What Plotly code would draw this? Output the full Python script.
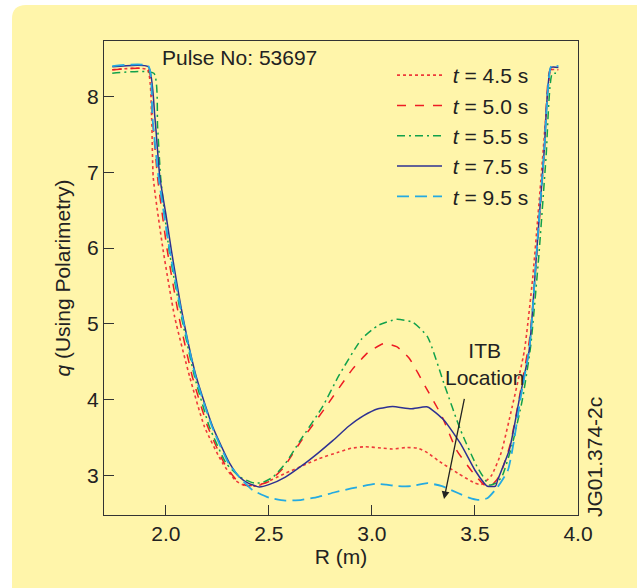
import plotly.graph_objects as go

# ---------------- data ----------------
labels = ["<i>t</i> = 4.5 s", "<i>t</i> = 5.0 s", "<i>t</i> = 5.5 s", "<i>t</i> = 7.5 s", "<i>t</i> = 9.5 s"]

r_45 = [1.74, 1.91, 1.931, 1.939, 1.987, 2.043, 2.116, 2.188, 2.276, 2.34, 2.39, 2.45, 2.58, 2.68, 2.74,
        2.84, 2.90, 2.967, 3.056, 3.10, 3.17, 3.225, 3.27, 3.32, 3.417, 3.50, 3.53, 3.58, 3.627, 3.68,
        3.74, 3.78, 3.82, 3.855, 3.868, 3.905]
q_45 = [8.35, 8.35, 7.72, 6.93, 5.97, 5.09, 4.30, 3.64, 3.16, 2.93, 2.86, 2.87, 3.03, 3.15, 3.22,
        3.31, 3.36, 3.38, 3.36, 3.35, 3.37, 3.36, 3.30, 3.20, 3.03, 2.90, 2.88, 3.00, 3.30, 3.90,
        4.65, 5.60, 6.90, 8.10, 8.35, 8.35]

r_50 = [1.74, 1.915, 1.935, 1.96, 2.007, 2.064, 2.129, 2.204, 2.284, 2.34, 2.39, 2.45, 2.50, 2.57, 2.65,
        2.77, 2.905, 2.98, 3.056, 3.12, 3.18, 3.26, 3.34, 3.41, 3.49, 3.546, 3.58, 3.62, 3.67, 3.72,
        3.765, 3.80, 3.835, 3.865, 3.905]
q_50 = [8.35, 8.35, 7.72, 6.93, 5.97, 5.09, 4.30, 3.64, 3.16, 2.95, 2.87, 2.88, 2.92, 3.10, 3.43,
        3.88, 4.40, 4.62, 4.74, 4.70, 4.55, 4.17, 3.78, 3.34, 3.04, 2.875, 2.87, 3.00, 3.40, 4.10,
        4.80, 5.90, 7.20, 8.35, 8.35]

r_55 = [1.74, 1.942, 1.96, 1.975, 2.016, 2.076, 2.14, 2.212, 2.293, 2.36, 2.43, 2.47, 2.52, 2.58, 2.654,
        2.76, 2.84, 2.95, 3.03, 3.12, 3.20, 3.27, 3.35, 3.43, 3.51, 3.57, 3.60, 3.63, 3.68, 3.73,
        3.77, 3.81, 3.845, 3.875, 3.905]
q_55 = [8.305, 8.305, 7.60, 6.93, 5.97, 5.09, 4.30, 3.64, 3.16, 2.98, 2.90, 2.91, 2.98, 3.16, 3.47,
        3.905, 4.32, 4.80, 4.98, 5.06, 5.02, 4.83, 4.21, 3.60, 3.12, 2.875, 2.90, 2.98, 3.40, 4.00,
        4.70, 5.90, 7.20, 8.30, 8.30]

r_75 = [1.74, 1.915, 1.947, 1.971, 2.00, 2.027, 2.083, 2.148, 2.228, 2.31, 2.357, 2.40, 2.453, 2.50, 2.58,
        2.66, 2.74, 2.81, 2.887, 2.96, 3.03, 3.10, 3.19, 3.27, 3.35, 3.43, 3.50, 3.545, 3.56, 3.60,
        3.61, 3.667, 3.715, 3.763, 3.80, 3.836, 3.868, 3.905]
q_75 = [8.39, 8.39, 7.72, 6.93, 6.45, 5.97, 5.09, 4.30, 3.64, 3.16, 2.98, 2.90, 2.85, 2.88, 2.98,
        3.13, 3.30, 3.46, 3.65, 3.79, 3.88, 3.91, 3.88, 3.905, 3.73, 3.42, 3.07, 2.90, 2.86, 2.86,
        2.94, 3.34, 4.00, 4.65, 5.97, 7.28, 8.38, 8.38]

r_95 = [1.74, 1.915, 1.935, 1.965, 2.019, 2.08, 2.145, 2.225, 2.305, 2.36, 2.42, 2.50, 2.58, 2.66, 2.74,
        2.82, 2.90, 3.016, 3.07, 3.128, 3.19, 3.27, 3.34, 3.417, 3.47, 3.514, 3.56, 3.61, 3.66, 3.69,
        3.72, 3.765, 3.80, 3.836, 3.87, 3.905]
q_95 = [8.40, 8.40, 7.72, 6.93, 5.97, 5.09, 4.30, 3.64, 3.16, 2.97, 2.81, 2.71, 2.67, 2.68, 2.72,
        2.78, 2.83, 2.89, 2.88, 2.86, 2.86, 2.90, 2.86, 2.77, 2.71, 2.68, 2.70, 2.85, 3.07, 3.47,
        4.00, 4.70, 5.97, 7.28, 8.40, 8.40]

x_ticks = [2.0, 2.5, 3.0, 3.5, 4.0]
y_ticks = [3, 4, 5, 6, 7, 8]

# ---------------- styling ----------------
FONT = "Liberation Sans, Arial, Helvetica, sans-serif"
FS = 21
YELLOW = "#FFF5AA"
AX = "#333333"
TXT = "#222222"
series = [
    (r_45, q_45, "#EE3A3A", "dot", 1.6),
    (r_50, q_50, "#ED1C24", "dash", 1.5),
    (r_55, q_55, "#12A14B", "8px,4px,2px,4px", 1.5),
    (r_75, q_75, "#2E3192", "solid", 1.5),
    (r_95, q_95, "#25AAE1", "12px,6px", 1.8),
]

fig = go.Figure()
for i, (xs, ys, col, dash, w) in enumerate(series):
    fig.add_trace(go.Scatter(
        x=xs, y=ys, mode="lines", name="\u00a0" + labels[i],
        line=dict(color=col, dash=dash, width=w, shape="spline", smoothing=0.5),
    ))

# plot area in pixels
L, R, T, B = 104, 578, 41, 515
W, H = 637, 588
def px(xp):
    return (xp - L) / (R - L)
def py(yp):
    return (B - yp) / (B - T)

# rounded yellow panel behind everything
x0, x1, y0, y1, rr = 12, 660, 5, 610, 14
path = (f"M {px(x0+rr)},{py(y0)} L {px(x1)},{py(y0)} L {px(x1)},{py(y1)} L {px(x0)},{py(y1)} "
        f"L {px(x0)},{py(y0+rr)} Q {px(x0)},{py(y0)} {px(x0+rr)},{py(y0)} Z")
fig.add_shape(type="path", path=path, xref="paper", yref="paper",
              fillcolor=YELLOW, line=dict(width=0), layer="below")

axis_common = dict(showline=True, mirror=True, linecolor=AX, linewidth=1.3,
                   ticks="inside", ticklen=10, tickwidth=1.3, tickcolor=AX,
                   showgrid=False, zeroline=False,
                   tickfont=dict(family=FONT, size=FS, color=TXT))

fig.update_layout(
    width=W, height=H, autosize=False,
    margin=dict(l=L, r=W - R, t=T, b=H - B),
    paper_bgcolor="white", plot_bgcolor="rgba(0,0,0,0)",
    font=dict(family=FONT, size=FS, color=TXT),
    xaxis=dict(range=[1.70, 4.0], tickvals=x_ticks, ticktext=[f"{v:.1f}" for v in x_ticks],
               title=dict(text="R (m)", font=dict(family=FONT, size=FS, color=TXT), standoff=4),
               **axis_common),
    yaxis=dict(range=[2.48, 8.73], tickvals=y_ticks, ticktext=[str(v) for v in y_ticks],
               title=dict(text="<i>q</i> (Using Polarimetry)", font=dict(family=FONT, size=FS, color=TXT),
                          standoff=10),
               **axis_common),
    legend=dict(x=px(392), y=py(55), xanchor="left", yanchor="top",
                bgcolor="rgba(0,0,0,0)", borderwidth=0, itemwidth=45,
                font=dict(family=FONT, size=FS, color=TXT)),
    showlegend=True,
)

fig.add_annotation(text="Pulse No: 53697", xref="paper", yref="paper",
                   x=px(160), y=py(57), xanchor="left", yanchor="middle",
                   showarrow=False, font=dict(family=FONT, size=FS, color=TXT))
fig.add_annotation(text="ITB<br>Location", xref="x", yref="y", x=3.545, y=4.47,
                   xanchor="center", yanchor="middle", showarrow=False,
                   font=dict(family=FONT, size=FS, color=TXT))
fig.add_annotation(text="", xref="x", yref="y", axref="x", ayref="y",
                   x=3.35, y=2.69, ax=3.45, ay=4.03, showarrow=True,
                   arrowhead=2, arrowsize=1.2, arrowwidth=1.3, arrowcolor=TXT)
fig.add_annotation(text="JG01.374-2c", xref="paper", yref="paper",
                   x=px(594), y=py(457), xanchor="center", yanchor="middle",
                   textangle=-90, showarrow=False,
                   font=dict(family=FONT, size=FS, color=TXT))

fig.write_html("out.html")
